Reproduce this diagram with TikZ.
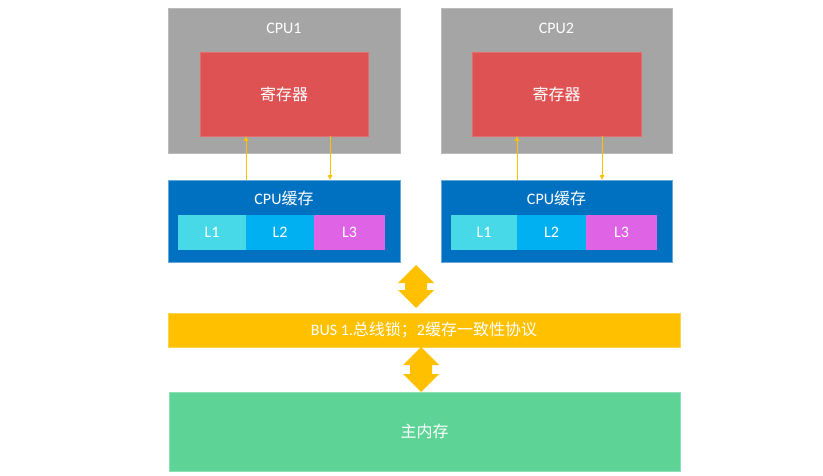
\documentclass[tikz,border=0pt]{standalone}
\usepackage{fontspec}
\setmainfont{Carlito}
\newfontfamily\cjk{Noto Sans CJK SC}
\usepackage{xcolor}
\usepackage{tikz}
\usetikzlibrary{arrows.meta}

\definecolor{cpugray}{HTML}{A5A5A5}
\definecolor{regred}{HTML}{DE5253}
\definecolor{cacheblue}{HTML}{0070C0}
\definecolor{lonecyan}{HTML}{48D9E8}
\definecolor{ltwoblue}{HTML}{00B0F0}
\definecolor{lthreepink}{HTML}{DF63E5}
\definecolor{busyellow}{HTML}{FFC000}
\definecolor{memgreen}{HTML}{5DD396}

\tikzset{
  boxtext/.style={inner sep=0pt, text=white, font=\fontsize{16}{19}\selectfont},
  box/.style={boxtext, rectangle, line width=0.6pt},
  cpubox/.style={box, fill=cpugray, draw=cpugray!75!white},
  regbox/.style={box, fill=regred, draw=regred!85!white},
  cachebox/.style={box, fill=cacheblue, draw=cacheblue!60!white},
  lbox/.style={box, minimum height=35pt},
  busbox/.style={box, fill=busyellow, draw=busyellow!70!white},
  membox/.style={box, fill=memgreen, draw=memgreen!70!white},
  datalink/.style={draw=busyellow, line width=0.6pt, -{Triangle[length=4.5pt,width=4.5pt]}},
  busarrow/.style={fill=busyellow}
}

\begin{document}
\begin{tikzpicture}[x=1pt,y=-1pt]
\useasboundingbox (0,0) rectangle (823,476);

\node[cpubox, minimum width=232pt, minimum height=145pt] (cpu1) at (284,80.5) {};
\node[boxtext] (cpu1name) at (284,28) {CPU1};
\node[regbox, minimum width=168pt, minimum height=84pt] (reg1) at (284,94) {\cjk 寄存器};
\node[cachebox, minimum width=232pt, minimum height=82pt] (cache1) at (284,221) {};
\node[boxtext] (cache1name) at (284,198) {CPU{\cjk 缓存}};
\node[lbox, fill=lonecyan, minimum width=68pt] (l1a) at (212,232.5) {L1};
\node[lbox, fill=ltwoblue, minimum width=68pt] (l2a) at (280,232.5) {L2};
\node[lbox, fill=lthreepink, minimum width=71pt] (l3a) at (349.5,232.5) {L3};

\node[cpubox, minimum width=231pt, minimum height=145pt] (cpu2) at (556.5,80.5) {};
\node[boxtext] (cpu2name) at (556.5,28) {CPU2};
\node[regbox, minimum width=169pt, minimum height=84pt] (reg2) at (556.5,94) {\cjk 寄存器};
\node[cachebox, minimum width=231pt, minimum height=82pt] (cache2) at (556.5,221) {};
\node[boxtext] (cache2name) at (556.5,198) {CPU{\cjk 缓存}};
\node[lbox, fill=lonecyan, minimum width=66pt] (l1b) at (484,232.5) {L1};
\node[lbox, fill=ltwoblue, minimum width=69pt] (l2b) at (551.5,232.5) {L2};
\node[lbox, fill=lthreepink, minimum width=71pt] (l3b) at (621.5,232.5) {L3};

\draw[datalink] ([xshift=-38pt]cache1.north) -- ([xshift=-38pt]reg1.south);
\draw[datalink] ([xshift=46pt]reg1.south) -- ([xshift=46pt]cache1.north);
\draw[datalink] ([xshift=-39.5pt]cache2.north) -- ([xshift=-39.5pt]reg2.south);
\draw[datalink] ([xshift=45.5pt]reg2.south) -- ([xshift=45.5pt]cache2.north);

\node[busbox, minimum width=512pt, minimum height=34pt] (bus) at (424,330) {BUS 1.{\cjk 总线锁；}2{\cjk 缓存一致性协议}};
\node[membox, minimum width=511pt, minimum height=79pt] (mem) at (424.5,431.5) {\cjk 主内存};

\fill[busarrow] (416,265) -- (434,283) -- (427,283) -- (427,290) -- (434,290) -- (416,308)
  -- (398,290) -- (405,290) -- (405,283) -- (398,283) -- cycle;
\fill[busarrow] (421,347) -- (439,365) -- (432,365) -- (432,374) -- (439,374) -- (421,392)
  -- (403,374) -- (410,374) -- (410,365) -- (403,365) -- cycle;

\end{tikzpicture}
\end{document}
